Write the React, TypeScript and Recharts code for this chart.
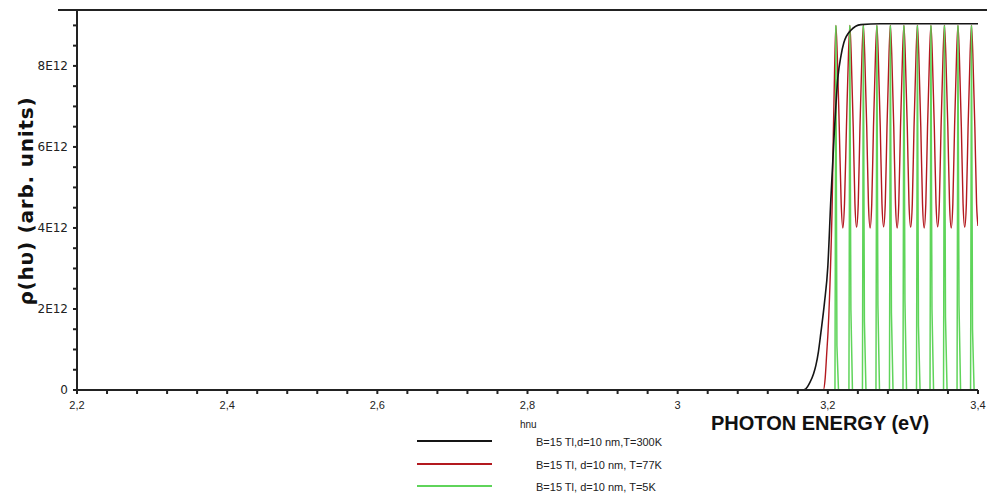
import { LineChart, Line, XAxis, YAxis } from 'recharts';

// photon energy (eV), density of states in units of 1E12
const black300K: [number, number][] = [
  [2.2, 0], [3.166, 0], [3.1707, 0.03], [3.176, 0.18], [3.181, 0.4], [3.184, 0.6], [3.1875, 0.95],
  [3.1907, 1.41], [3.1955, 2.15], [3.2, 3.05], [3.204, 4.7], [3.208, 6.15], [3.2133, 7.7],
  [3.2175, 8.25], [3.2213, 8.57], [3.2307, 8.88], [3.244, 9.02], [3.27, 9.04], [3.4, 9.04],
];

const red77K: [number, number][] = [
  [2.2, 0], [3.194, 0], [3.1965, 0.3], [3.1985, 0.9], [3.2003, 1.45], [3.2036, 3.05], [3.2059, 4.7],
  [3.2072, 6.2], [3.209, 7.9], [3.2107, 9.0],
  [3.2125, 8.3], [3.2152, 6.5], [3.2178, 4.6], [3.22, 4.0], [3.2222, 4.6], [3.2248, 6.5], [3.2275, 8.3], [3.2293, 9.0],
  [3.2311, 8.3], [3.2338, 6.5], [3.2361, 4.6], [3.2383, 4.02], [3.2405, 4.6], [3.2428, 6.5], [3.2455, 8.3], [3.2473, 9.0],
  [3.2491, 8.3], [3.2518, 6.5], [3.2541, 4.6], [3.2563, 4.0], [3.2585, 4.6], [3.2608, 6.5], [3.2635, 8.3], [3.2653, 9.0],
  [3.2671, 8.3], [3.2698, 6.5], [3.2721, 4.6], [3.2743, 4.03], [3.2765, 4.6], [3.2788, 6.5], [3.2815, 8.3], [3.2833, 9.0],
  [3.2851, 8.3], [3.2878, 6.5], [3.2901, 4.6], [3.2923, 4.0], [3.2945, 4.6], [3.2968, 6.5], [3.2995, 8.3], [3.3013, 9.0],
  [3.3031, 8.3], [3.3058, 6.5], [3.3081, 4.6], [3.3103, 4.02], [3.3125, 4.6], [3.3148, 6.5], [3.3175, 8.3], [3.3193, 9.0],
  [3.3211, 8.3], [3.3238, 6.5], [3.3261, 4.6], [3.3283, 4.0], [3.3305, 4.6], [3.3328, 6.5], [3.3355, 8.3], [3.3373, 9.0],
  [3.3391, 8.3], [3.3418, 6.5], [3.3441, 4.6], [3.3463, 4.03], [3.3485, 4.6], [3.3508, 6.5], [3.3535, 8.3], [3.3553, 9.0],
  [3.3571, 8.3], [3.3598, 6.5], [3.3621, 4.6], [3.3643, 4.0], [3.3665, 4.6], [3.3688, 6.5], [3.3715, 8.3], [3.3733, 9.0],
  [3.3751, 8.3], [3.3778, 6.5], [3.3801, 4.6], [3.3823, 4.02], [3.3845, 4.6], [3.3868, 6.5], [3.3895, 8.3], [3.3913, 9.0],
  [3.3931, 8.3], [3.3958, 6.5], [3.3981, 4.6], [3.4, 4.05],
];

const green5K: [number, number][] = [
  [2.2, 0], [3.2095, 0], [3.2107, 9.0], [3.2121, 1.1], [3.2142, 0],
  [3.2281, 0], [3.2293, 9.0], [3.2307, 2.0], [3.2328, 0],
  [3.2461, 0], [3.2473, 9.0], [3.2487, 1.7], [3.2508, 0],
  [3.2641, 0], [3.2653, 9.0], [3.2667, 2.1], [3.2688, 0],
  [3.2821, 0], [3.2833, 9.0], [3.2847, 1.9], [3.2868, 0],
  [3.3001, 0], [3.3013, 9.0], [3.3027, 2.2], [3.3048, 0],
  [3.3181, 0], [3.3193, 9.0], [3.3207, 1.6], [3.3228, 0],
  [3.3361, 0], [3.3373, 9.0], [3.3387, 2.0], [3.3408, 0],
  [3.3541, 0], [3.3553, 9.0], [3.3567, 1.8], [3.3588, 0],
  [3.3721, 0], [3.3733, 9.0], [3.3747, 2.1], [3.3768, 0],
  [3.3901, 0], [3.3913, 9.0], [3.3927, 1.5], [3.3948, 0],
  [3.4, 0],
];

const xTicks = [
  2.2, 2.24, 2.28, 2.32, 2.36, 2.4, 2.44, 2.48, 2.52, 2.56, 2.6, 2.64, 2.68, 2.72, 2.76, 2.8,
  2.84, 2.88, 2.92, 2.96, 3.0, 3.04, 3.08, 3.12, 3.16, 3.2, 3.24, 3.28, 3.32, 3.36, 3.4,
];
const yTicks = [0, 0.5, 1, 1.5, 2, 2.5, 3, 3.5, 4, 4.5, 5, 5.5, 6, 6.5, 7, 7.5, 8, 8.5, 9];

const legendItems = [
  { label: 'B=15 Tl,d=10 nm,T=300K', color: '#151515' },
  { label: 'B=15 Tl, d=10 nm, T=77K', color: '#b3191f' },
  { label: 'B=15 Tl, d=10 nm, T=5K', color: '#5fd45a' },
];

const toRows = (pts: [number, number][]) => pts.map(([e, v]) => ({ e, v }));

const fmtX = (v: number) =>
  Math.abs(v * 5 - Math.round(v * 5)) < 1e-6 ? String(Math.round(v * 10) / 10).replace('.', ',') : '';
const fmtY = (v: number) => (v === 0 ? '0' : Math.abs(v % 2) < 1e-9 ? `${v}E12` : '');

const sans = '"Liberation Sans", Arial, sans-serif';

export default function App() {
  return (
    <div style={{ position: 'absolute', left: 0, top: 0, width: 987, height: 495, background: '#fff', overflow: 'hidden' }}>
      <LineChart width={987} height={495} margin={{ top: 10, right: 9, left: 0, bottom: 0 }}>
        <XAxis
          type="number"
          dataKey="e"
          domain={[2.2, 3.4]}
          ticks={xTicks}
          interval={0}
          tickFormatter={fmtX}
          height={105}
          tickSize={4}
          tickMargin={7}
          stroke="#222"
          strokeWidth={2}
          tick={{ fontSize: 11, fill: '#222', fontFamily: sans }}
          allowDataOverflow
        />
        <YAxis
          type="number"
          domain={[0, 9.38]}
          ticks={yTicks}
          interval={0}
          tickFormatter={fmtY}
          width={77}
          tickSize={4}
          tickMargin={5}
          stroke="#222"
          strokeWidth={2}
          tick={{ fontSize: 12, fill: '#222', fontFamily: '"DejaVu Sans", sans-serif' }}
          allowDataOverflow
        />
        <Line data={toRows(red77K)} dataKey="v" type="monotone" stroke="#b3191f" strokeWidth={1.4} dot={false} isAnimationActive={false} />
        <Line data={toRows(green5K)} dataKey="v" type="linear" stroke="#5fd45a" strokeWidth={1.5} dot={false} isAnimationActive={false} />
        <Line data={toRows(black300K)} dataKey="v" type="monotone" stroke="#151515" strokeWidth={1.6} dot={false} isAnimationActive={false} />
      </LineChart>

      <div style={{ position: 'absolute', left: 58, top: 9, width: 929, height: 2, background: '#222' }} />

      <div
        style={{
          position: 'absolute', left: 26, top: 201, transform: 'translate(-50%, -50%) rotate(-90deg)',
          whiteSpace: 'nowrap', fontFamily: '"DejaVu Sans", sans-serif', fontWeight: 'bold', fontSize: 20,
          letterSpacing: 0.8, color: '#111', lineHeight: 1,
        }}
      >
        ρ(hυ) (arb. units)
      </div>

      <div style={{ position: 'absolute', left: 711, top: 412, fontFamily: sans, fontWeight: 'bold', fontSize: 20, color: '#111', whiteSpace: 'nowrap' }}>
        PHOTON ENERGY (eV)
      </div>

      <div style={{ position: 'absolute', left: 520, top: 419, fontFamily: sans, fontSize: 10, color: '#222' }}>hnu</div>

      {legendItems.map((it, i) => (
        <div key={it.label}>
          <div style={{ position: 'absolute', left: 417, top: 440 + i * 22.5, width: 75, height: 2, background: it.color }} />
          <div style={{ position: 'absolute', left: 536, top: 436 + i * 22.5, fontFamily: sans, fontSize: 11, color: '#222', whiteSpace: 'nowrap' }}>
            {it.label}
          </div>
        </div>
      ))}
    </div>
  );
}
